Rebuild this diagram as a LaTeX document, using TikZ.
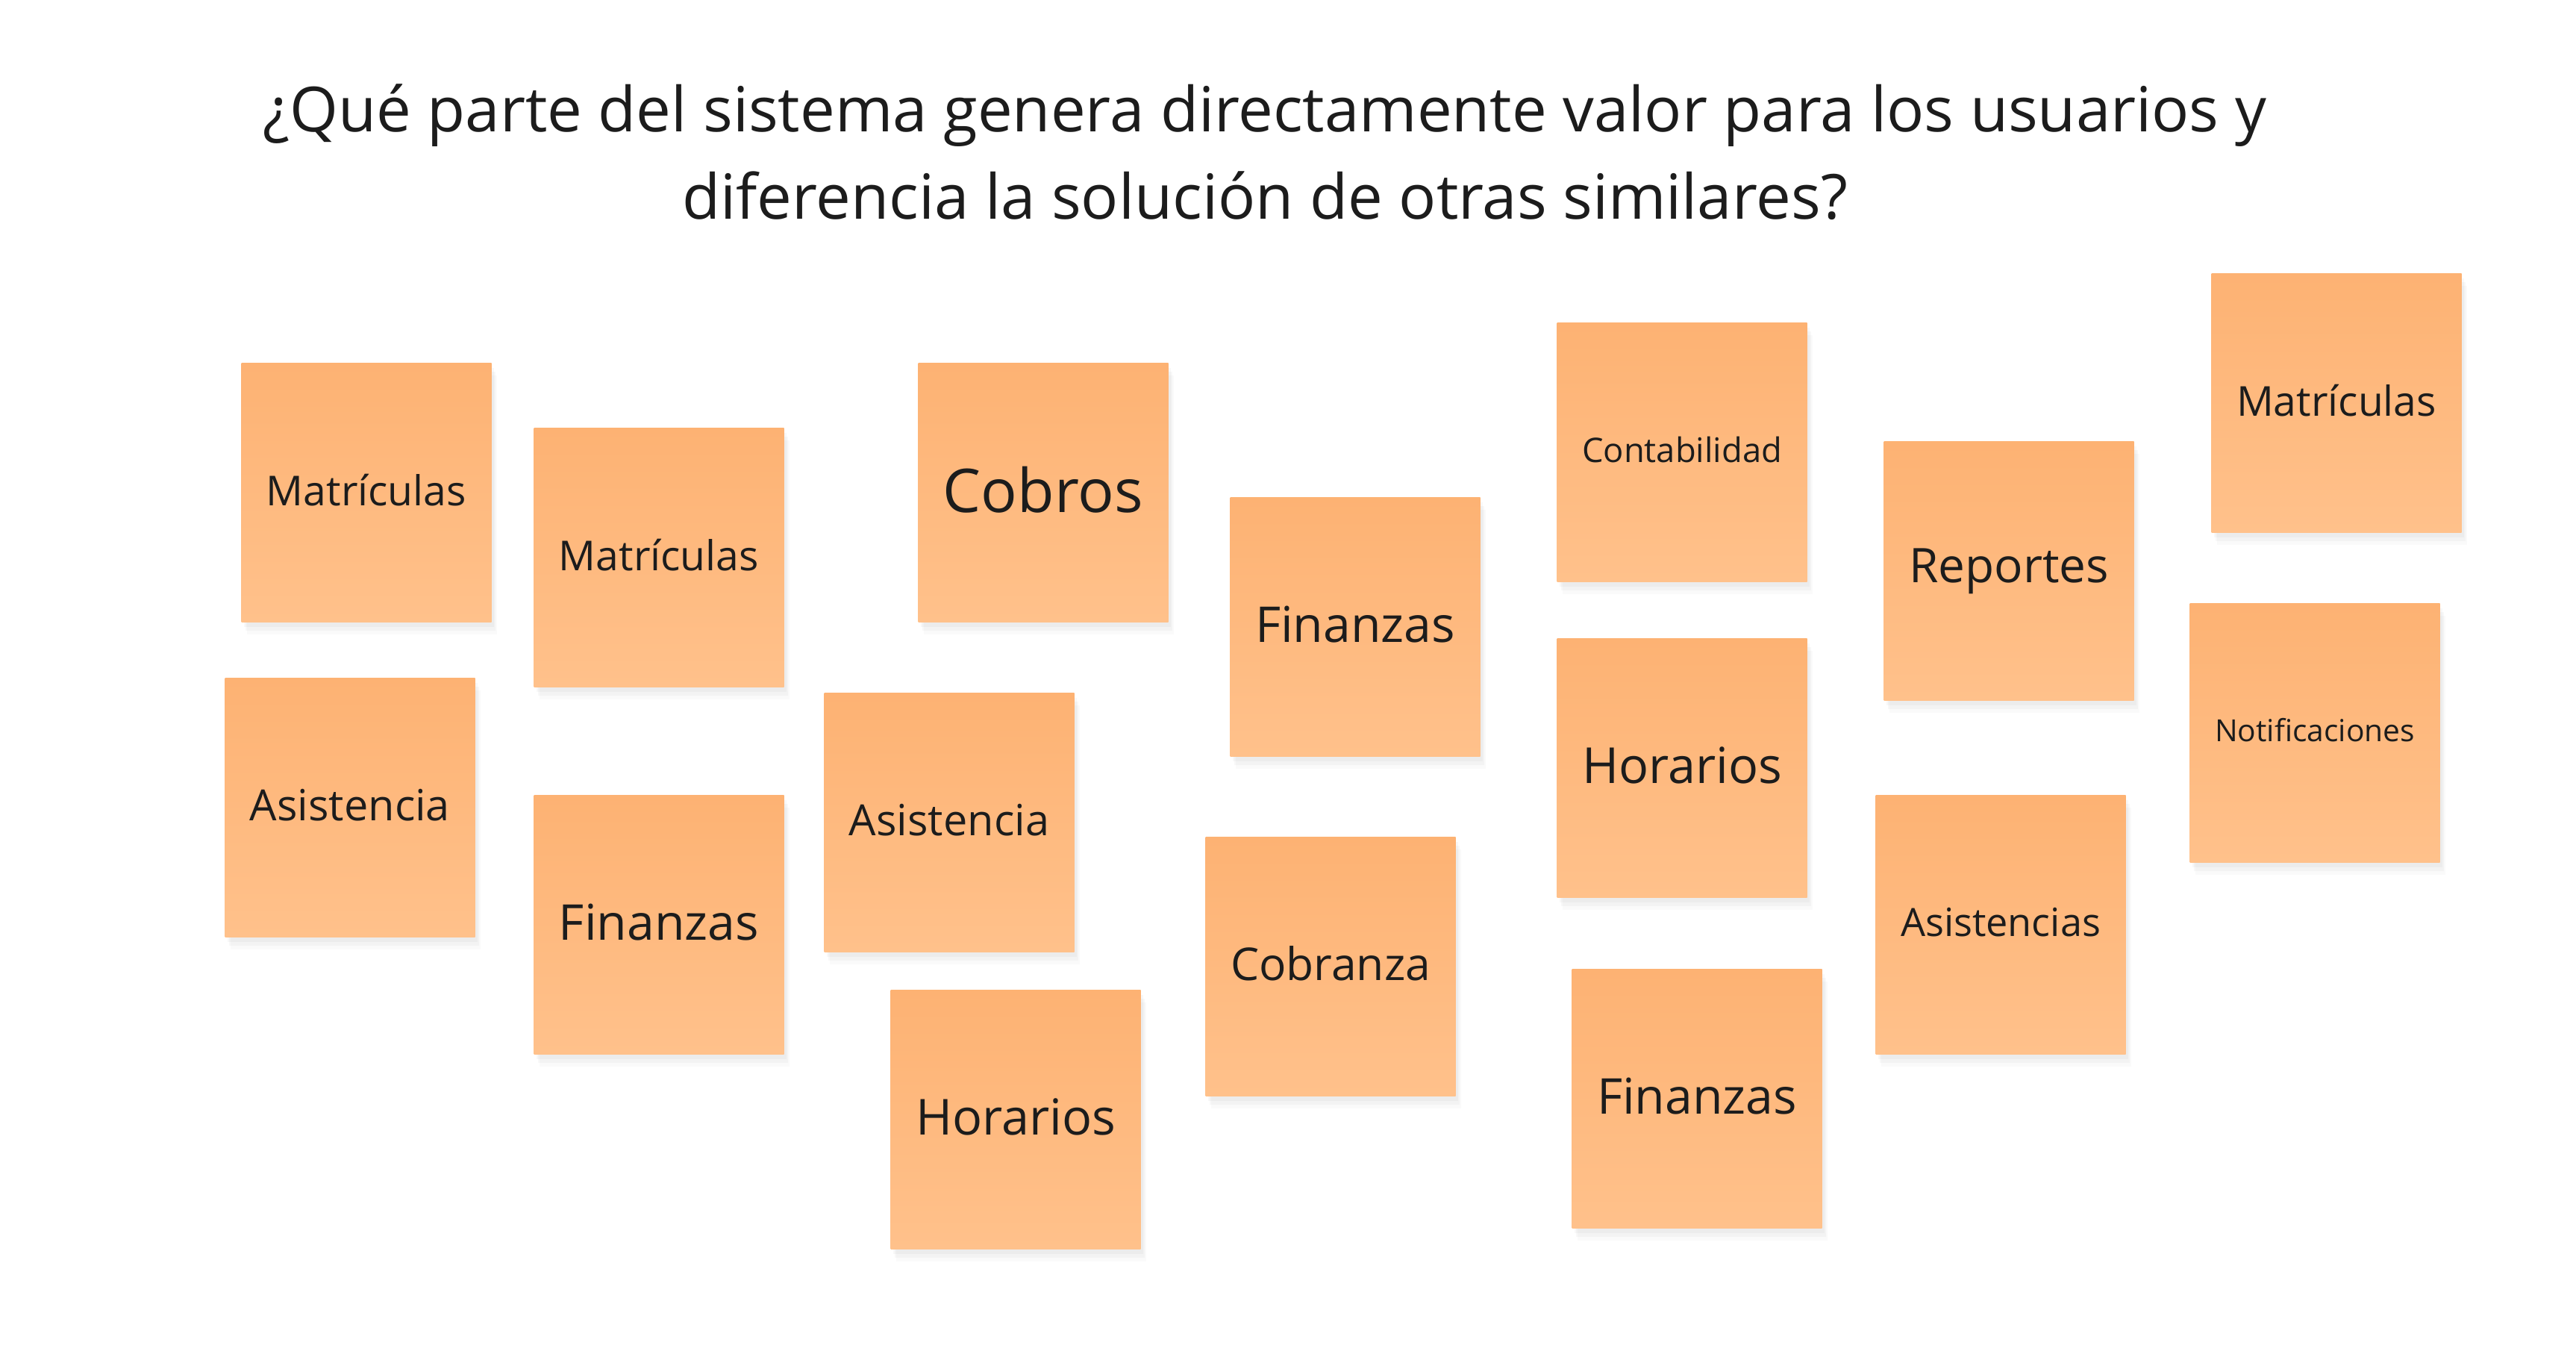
\documentclass[tikz,border=0pt]{standalone}
\usepackage{fontspec}
\setmainfont{Open Sans}
\usepackage{xcolor}
\usepackage{tikz}
\usetikzlibrary{positioning,shadows}
\definecolor{notetop}{HTML}{FDB273}
\definecolor{notebot}{HTML}{FFC18B}
\definecolor{ink}{HTML}{1C1C1C}
\newcommand{\fitnote}[1]{\raisebox{0.8mm}{\resizebox{26.8mm}{!}{#1}}}

\begin{document}
\begin{tikzpicture}[
  every node/.style={text=ink},
  note/.style={top color=notetop, bottom color=notebot, inner sep=0pt,
    minimum width=33.5mm, minimum height=34.7mm,
    drop shadow={opacity=0.05, shadow xshift=0.3mm, shadow yshift=-0.6mm},
    drop shadow={opacity=0.05, shadow xshift=0.5mm, shadow yshift=-1.1mm},
    drop shadow={opacity=0.04, shadow xshift=0.7mm, shadow yshift=-1.6mm}},
  title/.style={align=center, font=\fontsize{23.7}{33.2}\selectfont}]
\useasboundingbox (0,0) rectangle (34.52,-18.10);
\fill[white] (0,0) rectangle (34.52,-18.10);
\node[title] (q) at (16.95,-2.04) {¿Qué parte del sistema genera directamente valor para los usuarios y\\diferencia la solución de otras similares?};
% first row
\node[note] (matA) at (4.91,-6.60) {\fitnote{Matrículas}};
\node[note] (matB) at (8.83,-7.47) {\fitnote{Matrículas}};
\node[note] (cobros) at (13.98,-6.60) {\fitnote{Cobros}};
\node[note] (finA) at (18.16,-8.40) {\fitnote{Finanzas}};
\node[note] (conta) at (22.54,-6.06) {\fitnote{Contabilidad}};
\node[note] (rep) at (26.92,-7.65) {\fitnote{Reportes}};
\node[note] (matC) at (31.31,-5.40) {\fitnote{Matrículas}};
% middle row
\node[note] (asisA) at (4.69,-10.82) {\fitnote{Asistencia}};
\node[note] (finB) at (8.83,-12.39) {\fitnote{Finanzas}};
\node[note] (asisB) at (12.72,-11.02) {\fitnote{Asistencia}};
\node[note] (horA) at (22.54,-10.29) {\fitnote{Horarios}};
\node[note] (notif) at (31.02,-9.82) {\fitnote{Notificaciones}};
% bottom row
\node[note] (horB) at (13.61,-15.00) {\fitnote{Horarios}};
\node[note] (cobza) at (17.83,-12.95) {\fitnote{Cobranza}};
\node[note] (finC) at (22.74,-14.72) {\fitnote{Finanzas}};
\node[note] (asisC) at (26.81,-12.39) {\fitnote{Asistencias}};
\end{tikzpicture}
\end{document}
